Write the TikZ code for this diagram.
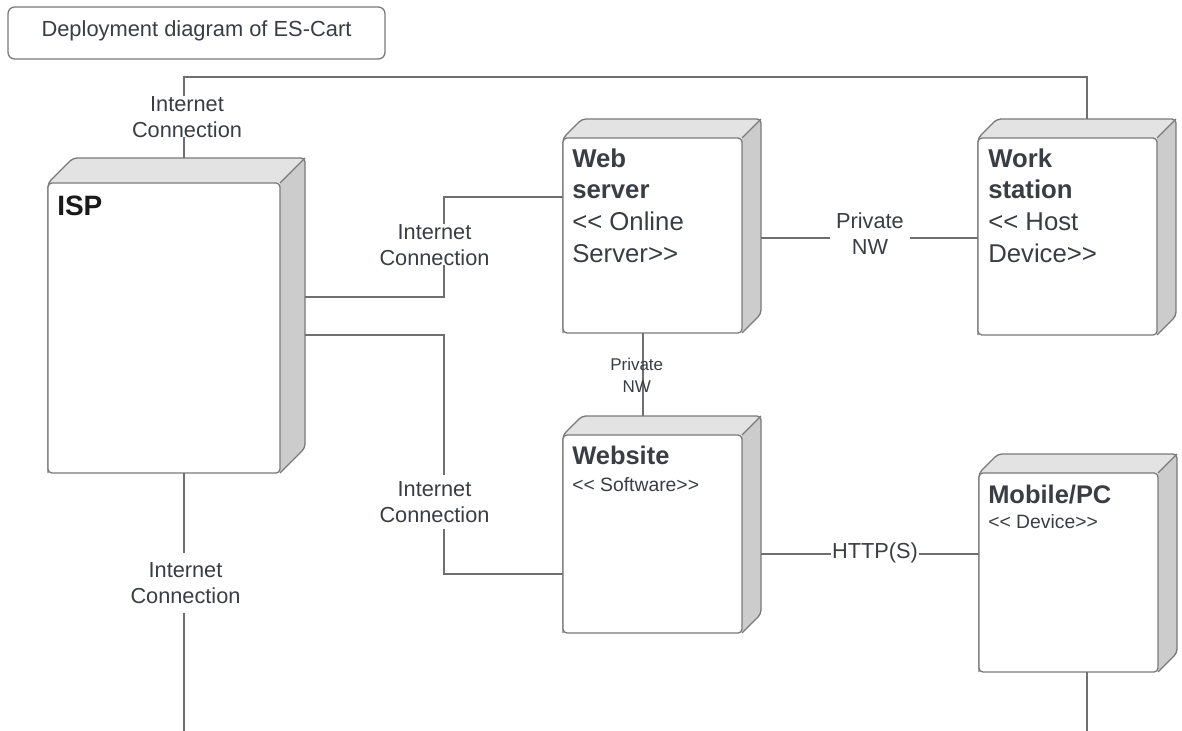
\documentclass[tikz,border=0pt]{standalone}
\usepackage{fontspec}
\setmainfont{Liberation Sans}
\usetikzlibrary{fit}

\definecolor{ink}{HTML}{3A3D44}
\definecolor{edge}{HTML}{7A7A7A}
\definecolor{wire}{HTML}{6F6F6F}
\definecolor{topface}{HTML}{E3E3E3}
\definecolor{sideface}{HTML}{CCCCCC}

% guillemet-like double angle brackets, kept as two separate characters
\newcommand\lguil{<\kern0pt<}
\newcommand\rguil{>\kern0pt>}
\newcommand\fs[2]{\fontsize{#1}{#2}\selectfont}

% 3D deployment node: #1 name, #2 x1, #3 y1, #4 x2, #5 y2 (front face), #6 depth
\newcommand\devbox[6]{%
  \begin{scope}
    \clip[rounded corners=3pt] (#2,#5) -- (#2,#3) -- ({#2+#6},{#3-#6}) -- ({#4+#6},{#3-#6}) -- ({#4+#6},{#5-#6}) -- (#4,#5) -- cycle;
    \fill[topface] (#2,#3) -- ({#2+#6},{#3-#6}) -- ({#4+#6},{#3-#6}) -- (#4,#3) -- cycle;
    \fill[sideface] (#4,#3) -- ({#4+#6},{#3-#6}) -- ({#4+#6},{#5-#6}) -- (#4,#5) -- cycle;
  \end{scope}
  \draw[boxline, rounded corners=3pt] (#2,#5) -- (#2,#3) -- ({#2+#6},{#3-#6}) -- ({#4+#6},{#3-#6}) -- ({#4+#6},{#5-#6}) -- (#4,#5);
  \draw[boxline] (#4,#3) -- ({#4+#6},{#3-#6});
  \draw[boxline, fill=white, rounded corners=3pt] (#2,#3) rectangle (#4,#5);
  \node[fit={(#2,{#3-#6}) ({#4+#6},#5)}, inner sep=0pt] (#1) {};
}

\begin{document}
\begin{tikzpicture}[x=0.75pt,y=-0.75pt,
  boxline/.style={draw=edge, line width=1pt, line join=round},
  wireline/.style={draw=wire, line width=1pt},
  lbl/.style={text=ink, font=\fs{16.3}{19.5}, align=center, inner sep=0pt, fill=white},
  nametext/.style={inner sep=0pt, text=ink},
]
\useasboundingbox (0,0) rectangle (1182,731);
\fill[white] (0,0) rectangle (1182,731);

% title
\node[draw=edge, line width=1pt, rounded corners=5pt, minimum width=282.75pt,
      minimum height=39pt, text=ink, font=\fs{16.4}{19.7}, text height=12pt,
      text depth=6pt, inner sep=0pt] (title) at (196.5,33) {Deployment diagram of ES-Cart};

% connector bend points and free ends
\coordinate (busL) at (184,77);
\coordinate (busR) at (1087,77);
\coordinate (a1) at (444,297);
\coordinate (a2) at (444,197);
\coordinate (b1) at (444,335);
\coordinate (b2) at (444,574);
\coordinate (ispend) at (184,731);
\coordinate (c1) at (870,238);
\coordinate (d1) at (643,375);
\coordinate (e1) at (870,554);
\coordinate (mobend) at (1087,731);

% nodes
\devbox{isp}{48}{183}{280}{473}{25}
\devbox{web}{563}{138}{742}{333}{19}
\devbox{work}{978}{138}{1157}{335}{19}
\devbox{site}{563}{435}{742}{633}{19}
\devbox{mob}{979}{473}{1158}{672}{19}

% connectors
\draw[wireline] (isp.north -| busL) -- (busL) -- (busR) -- (work.north -| busR);
\draw[wireline] (isp.east |- a1) -- (a1) -- (a2) -- (web.west |- a2);
\draw[wireline] (isp.east |- b1) -- (b1) -- (b2) -- (site.west |- b2);
\draw[wireline] (isp.south -| ispend) -- (ispend);
\draw[wireline] (web.east |- c1) -- (work.west |- c1);
\draw[wireline] (web.south -| d1) -- (site.north -| d1);
\draw[wireline] (site.east |- e1) -- (mob.west |- e1);
\draw[wireline] (mob.south -| mobend) -- (mobend);

% node texts
\node[nametext, anchor=base west, text=black!90, font=\bfseries\fs{21}{25}] (ispname) at (57,215) {ISP};
\node[nametext, anchor=north west, align=left, font=\fs{19.3}{23.8}] (webname) at (572,148.3)
  {\textbf{Web}\\\textbf{server}\\\lguil{} Online\\Server\rguil};
\node[nametext, anchor=north west, align=left, font=\fs{19.3}{23.8}] (workname) at (988,148.3)
  {\textbf{Work}\\\textbf{station}\\\lguil{} Host\\Device\rguil};
\node[nametext, anchor=base west, font=\bfseries\fs{19.1}{23}] (sitename) at (572,464) {Website};
\node[nametext, anchor=base west, font=\fs{14.5}{17}] (sitetype) at (572,491) {\lguil{} Software\rguil};
\node[nametext, anchor=base west, font=\bfseries\fs{19.1}{23}] (mobname) at (988,503) {Mobile/PC};
\node[nametext, anchor=base west, font=\fs{14.5}{17}] (mobtype) at (988,528) {\lguil{} Device\rguil};

% connector labels
\node[lbl] (l1) at (187,116.7) {Internet\\Connection};
\node[lbl] (l2) at (434.5,244.7) {Internet\\Connection};
\node[lbl, inner ysep=5pt] (l3) at (434.5,502.2) {Internet\\Connection};
\node[lbl, inner ysep=7pt] (l4) at (185.5,583.2) {Internet\\Connection};
\node[lbl, inner xsep=5pt, inner ysep=2pt] (l5) at (870,233.7) {Private\\NW};
\node[lbl, fill=none, font=\fs{12.75}{16.5}] (l6) at (636.7,374.9) {Private\\NW};
\node[lbl, anchor=base, inner xsep=1pt] (l7) at (875,558) {HTTP(S)};
\end{tikzpicture}
\end{document}
